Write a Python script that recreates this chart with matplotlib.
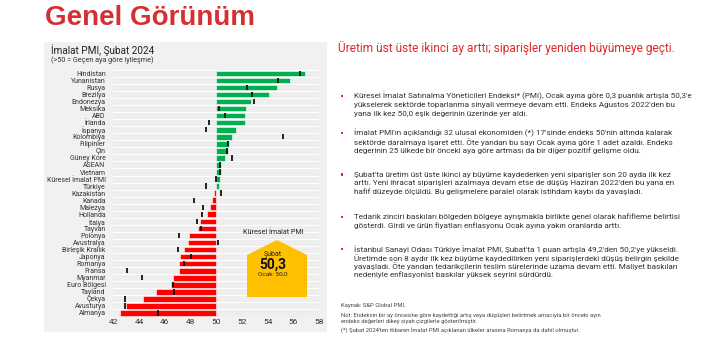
import numpy as np
import matplotlib
matplotlib.use("Agg")
import matplotlib.pyplot as plt
from matplotlib.patches import Rectangle, Polygon

plt.rcParams['font.family'] = ['Roboto', 'DejaVu Sans']

# data: imalat PMI, Subat 2024 and previous month (Ocak)
countries = ["Hindistan", "Yunanistan", "Rusya", "Brezilya", "Endonezya", "Meksika", "ABD",
             "İrlanda", "İspanya", "Kolombiya", "Filipinler", "Çin", "Güney Kore", "ASEAN",
             "Vietnam", "Küresel İmalat PMI", "Türkiye", "Kazakistan", "Kanada", "Malezya",
             "Hollanda", "İtalya", "Tayvan", "Polonya", "Avustralya", "Birleşik Krallık",
             "Japonya", "Romanya", "Fransa", "Myanmar", "Euro Bölgesi", "Tayland", "Çekya",
             "Avusturya", "Almanya"]
pmi_feb = [56.9, 55.7, 54.7, 54.1, 52.7, 52.3, 52.2, 52.2, 51.5, 51.2, 51.0, 50.9, 50.7, 50.4,
           50.4, 50.3, 50.2, 49.8, 49.7, 49.5, 49.3, 48.7, 48.6, 47.9, 47.8, 47.5, 47.2, 47.1,
           47.1, 46.6, 46.5, 45.3, 44.3, 43.0, 42.5]
pmi_jan = [56.5, 54.8, 52.4, 52.8, 52.9, 50.2, 50.7, 49.4, 49.2, 55.2, 50.9, 50.8, 51.2, 50.3,
           50.3, 50.0, 49.2, 50.4, 48.3, 49.0, 48.9, 48.5, 48.8, 47.1, 50.1, 47.0, 48.0, 47.5,
           43.1, 44.2, 46.6, 46.7, 42.9, 42.9, 45.5]
xticks = [42, 44, 46, 48, 50, 52, 54, 56, 58]

W, H = 720, 350
fig = plt.figure(figsize=(7.2, 3.5), dpi=100)
fig.patch.set_facecolor('white')


def px(x, y):
    return x / W, 1 - y / H


# grey panel behind the chart
fig.patches.append(Rectangle(px(44, 332), (327 - 44) / W, (332 - 42) / H,
                             transform=fig.transFigure, facecolor='#f1f1f1',
                             edgecolor='none', zorder=-5))

# main title
red = '#d62f33'
fig.text(*px(45, 18), "Genel Görünüm", color=red, fontsize=20, fontweight='bold',
         family=['Liberation Sans', 'DejaVu Sans'], va='center', ha='left')

# chart titles
fig.text(*px(51, 50), "İmalat PMI, Şubat 2024", fontsize=7.2, color='#222222', va='center')
fig.text(*px(51, 60), "(>50 = Geçen aya göre iyileşme)", fontsize=5.2, color='#333333', va='center')

ax = fig.add_axes([113.3 / W, 1 - 316.5 / H, 206 / W, (316.5 - 69.8) / H])
ax.set_facecolor('#eeeeee')
n = len(countries)
y = np.arange(n)
vals = np.array(pmi_feb)
colors = ['#00b050' if v >= 50 else '#ff0000' for v in vals]
ax.barh(y, vals - 50, left=50, height=0.8, color=colors, edgecolor='white', linewidth=0.4, zorder=2)
ax.vlines(pmi_jan, y - 0.38, y + 0.38, color='#111111', linewidth=1.3, zorder=3)
for b in np.arange(-0.5, n, 1.0):
    ax.axhline(b, color='white', linewidth=0.8, zorder=1)

ax.set_xlim(42, 58)
ax.set_ylim(n - 0.5, -0.5)
ax.set_xticks(xticks)
ax.set_xticklabels([str(t) for t in xticks], fontsize=6, color='#333333')
ax.set_yticks(y)
ax.set_yticklabels(countries, fontsize=5, color='#333333')
ax.tick_params(length=0, pad=2)
ax.tick_params(axis='y', pad=5.5)
for s in ax.spines.values():
    s.set_visible(False)

# callout for global PMI
gi = countries.index("Küresel İmalat PMI")
fig.text(*px(273, 233), "Küresel İmalat PMI", fontsize=5.2, color='#222222', ha='center', va='center')
fig.patches.append(Polygon([px(247, 255), px(277, 240), px(307, 255), px(307, 297), px(247, 297)],
                           closed=True, transform=fig.transFigure, facecolor='#ffc000',
                           edgecolor='none', zorder=1))
fig.text(*px(273, 254), "Şubat", fontsize=5, color='#222222', ha='center', va='center')
fig.text(*px(273, 264.5), f"{pmi_feb[gi]:.1f}".replace('.', ','), fontsize=10, fontweight='bold',
         color='#111111', ha='center', va='center')
fig.text(*px(273, 274), "Ocak: " + f"{pmi_jan[gi]:.1f}".replace('.', ','), fontsize=4.6,
         color='#222222', ha='center', va='center')

# right side text
fig.text(*px(338, 48), "Üretim üst üste ikinci ay arttı; siparişler yeniden büyümeye geçti.",
         fontsize=8.6, color='#e0282e', va='center')

bullets = [
    ["Küresel İmalat Satınalma Yöneticileri Endeksi* (PMI), Ocak ayına göre 0,3 puanlık artışla 50,3'e",
     "yükselerek sektörde toparlanma sinyali vermeye devam etti. Endeks Ağustos 2022'den bu",
     "yana ilk kez 50,0 eşik değerinin üzerinde yer aldı."],
    ["İmalat PMI'ın açıklandığı 32 ulusal ekonomiden (*) 17'sinde endeks 50'nin altında kalarak",
     "sektörde daralmaya işaret etti. Öte yandan bu sayı Ocak ayına göre 1 adet azaldı. Endeks",
     "değerinin 25 ülkede bir önceki aya göre artması da bir diğer pozitif gelişme oldu."],
    ["Şubat'ta üretim üst üste ikinci ay büyüme kaydederken yeni siparişler son 20 ayda ilk kez",
     "arttı. Yeni ihracat siparişleri azalmaya devam etse de düşüş Haziran 2022'den bu yana en",
     "hafif düzeyde ölçüldü. Bu gelişmelere paralel olarak istihdam kaybı da yavaşladı."],
    ["Tedarik zinciri baskıları bölgeden bölgeye ayrışmakla birlikte genel olarak hafifleme belirtisi",
     "gösterdi. Girdi ve ürün fiyatları enflasyonu Ocak ayına yakın oranlarda arttı."],
    ["İstanbul Sanayi Odası Türkiye İmalat PMI, Şubat'ta 1 puan artışla 49,2'den 50,2'ye yükseldi.",
     "Üretimde son 8 aydır ilk kez büyüme kaydedilirken yeni siparişlerdeki düşüş belirgin şekilde",
     "yavaşladı. Öte yandan tedarikçilerin teslim sürelerinde uzama devam etti. Maliyet baskıları",
     "nedeniyle enflasyonist baskılar yüksek seyrini sürdürdü."],
]
starts = [96, 133, 174.5, 217, 249]
for lines, y0 in zip(bullets, starts):
    fig.patches.append(Rectangle(px(340.5, y0 + 1.2), 2.4 / W, 2.4 / H, transform=fig.transFigure,
                                 facecolor=red, edgecolor='none'))
    for k, line in enumerate(lines):
        fig.text(*px(354, y0 + k * 8.6), line, fontsize=5.9, color='#333333', va='center')

notes = [(305, "Kaynak: S&P Global PMI."),
         (315.5, "Not: Endeksin bir ay öncesine göre kaydettiği artış veya düşüşleri belirtmek amacıyla bir önceki ayın"),
         (321, "endeks değerleri dikey siyah çizgilerle gösterilmiştir."),
         (330.5, "(*) Şubat 2024'ten itibaren İmalat PMI açıklanan ülkeler arasına Romanya da dahil olmuştur.")]
for yy, t in notes:
    fig.text(*px(341, yy), t, fontsize=4.25, color='#444444', va='center')

fig.savefig("out.png", dpi=100)
